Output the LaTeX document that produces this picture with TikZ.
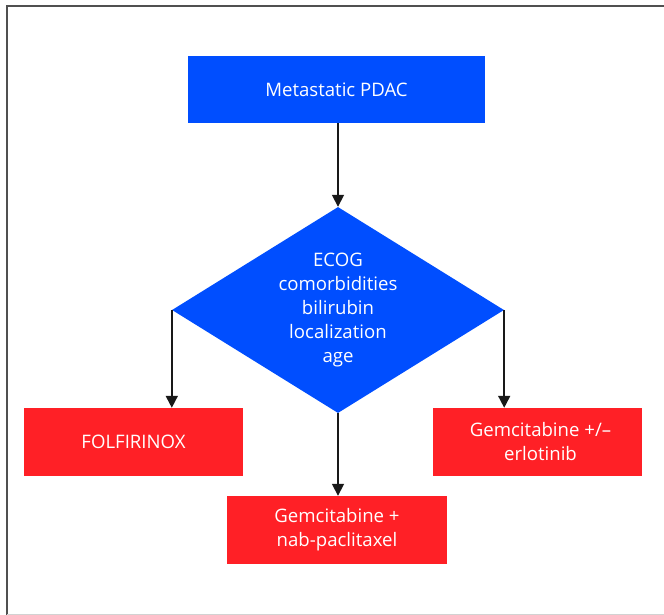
\documentclass[tikz,border=0pt]{standalone}
\usepackage{fontspec}
\setmainfont{Open Sans}
\usetikzlibrary{shapes.geometric,arrows.meta}
\definecolor{boxblue}{RGB}{0,78,255}
\definecolor{boxred}{RGB}{255,32,38}
\definecolor{framegray}{RGB}{80,80,80}
\definecolor{linkcol}{RGB}{25,25,25}
\begin{document}
\begin{tikzpicture}[x=1pt,y=-1pt,
  txt/.style={text=white,font=\fontsize{18.6}{24}\selectfont,align=center,inner sep=0pt},
  bluebox/.style={fill=boxblue,draw=none,minimum width=297pt,minimum height=67pt,inner sep=0pt},
  redbox/.style={fill=boxred,draw=none,minimum width=219pt,minimum height=68pt,inner sep=0pt},
  decision/.style={diamond,fill=boxblue,draw=none,minimum width=332pt,minimum height=206pt,inner sep=0pt},
  link/.style={draw=linkcol,line width=1.7pt,-{Triangle[width=12pt,length=12pt]}}]
\useasboundingbox (0,0) rectangle (664,615);
% frame
\draw[framegray,line width=2pt] (7,615) -- (7,6) -- (664,6);
\draw[gray!35,line width=1pt] (7,614.5) -- (664,614.5);
% nodes
\node[bluebox] (pdac) at (336.5,89.5) {};
\node[txt] (pdact) at (pdac.center) {Metastatic PDAC};
\node[decision] (dec) at (338,310) {};
\node[txt] (dect) at (dec.center) {ECOG\\comorbidities\\bilirubin\\localization\\age};
\node[redbox] (folf) at (133.5,442) {};
\node[txt] (folft) at (folf.center) {FOLFIRINOX};
\node[redbox,minimum width=209pt] (erlo) at (537.5,442) {};
\node[txt] (erlot) at ([xshift=3pt]erlo.center) {Gemcitabine +/–\\erlotinib};
\node[redbox,minimum width=220pt,minimum height=68pt] (nab) at (337,530) {};
\node[txt] (nabt) at (nab.center) {Gemcitabine +\\nab-paclitaxel};
% connectors
\draw[link] (dec.north |- pdac.south) -- (dec.north);
\draw[link] (dec.west) -- (dec.west |- folf.north);
\draw[link] (dec.east) -- (dec.east |- erlo.north);
\draw[link] (dec.south) -- (dec.south |- nab.north);
\end{tikzpicture}
\end{document}
